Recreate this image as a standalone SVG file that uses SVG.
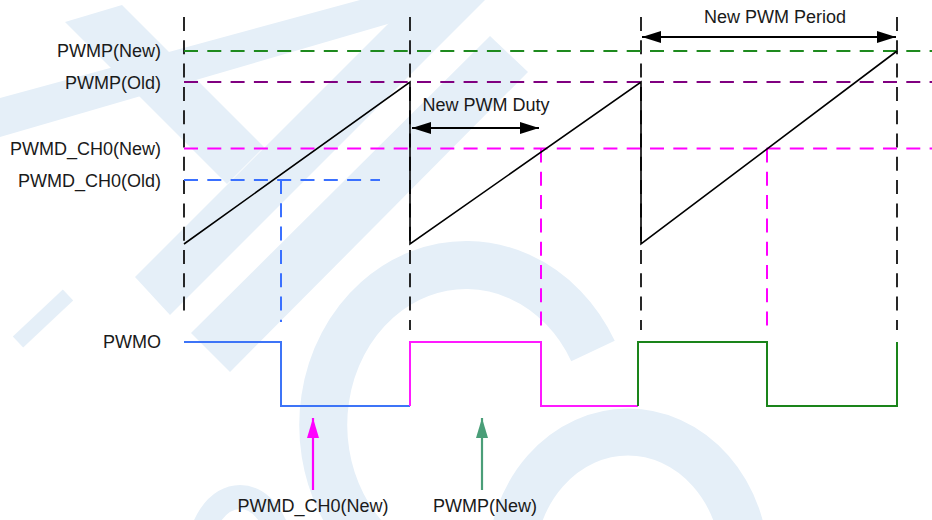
<svg xmlns="http://www.w3.org/2000/svg" width="932" height="520" viewBox="0 0 932 520">
<style>
.wm{fill:#e5eff8;stroke:none}
.wms{fill:none;stroke:#e5eff8}
.lbl{font-family:"Liberation Sans",Arial,sans-serif;font-size:18px;fill:#1a1a1a}
.end{text-anchor:end}
.mid{text-anchor:middle}
.grid{fill:none;stroke:#111;stroke-width:1.8;stroke-dasharray:14 9.3}
.lvl{fill:none;stroke-width:2;stroke-dasharray:14 9.3}
.saw{fill:none;stroke:#000;stroke-width:1.6;stroke-linejoin:miter}
.wave{fill:none;stroke-width:2}
.dim{stroke:#000;stroke-width:2}
</style>
<defs>
<marker id="ah" viewBox="0 0 19 12" refX="19" refY="6" markerWidth="19" markerHeight="12" markerUnits="userSpaceOnUse" orient="auto-start-reverse"><path d="M0,0 L19,6 L0,12 Z" fill="#000"/></marker>
<marker id="ahm" viewBox="0 0 12 20" refX="6" refY="0" markerWidth="12" markerHeight="20" markerUnits="userSpaceOnUse" orient="0"><path d="M6,0 L12,20 L0,20 Z" fill="#ff00ff"/></marker>
<marker id="ahg" viewBox="0 0 12 20" refX="6" refY="0" markerWidth="12" markerHeight="20" markerUnits="userSpaceOnUse" orient="0"><path d="M6,0 L12,20 L0,20 Z" fill="#4a9e78"/></marker>
</defs>
<rect x="0" y="0" width="932" height="520" fill="#ffffff"/>
<g id="watermark">
<polygon class="wm" points="0,98 360,0 470,0 0,137"/>
<polygon class="wm" points="65,22 122,5 264,147 227,184"/>
<polygon class="wm" points="135,277 170,315 485,0 412,0"/>
<polygon class="wm" points="191,333 230,372 528,72 490,36"/>
<line class="wms" x1="18" y1="342" x2="68" y2="295" stroke-width="15"/>
<path class="wms" d="M593,351 A143,160 0 1 0 470,585" stroke-width="48"/>
<ellipse class="wms" cx="628" cy="565" rx="117" ry="133" stroke-width="47"/>
<ellipse class="wms" cx="240" cy="560" rx="42" ry="63" stroke-width="24"/>
</g>
<g id="labels">
<text class="lbl end" x="161" y="57">PWMP(New)</text>
<text class="lbl end" x="161" y="88.5">PWMP(Old)</text>
<text class="lbl end" x="161" y="155">PWMD_CH0(New)</text>
<text class="lbl end" x="161" y="186.5">PWMD_CH0(Old)</text>
<text class="lbl end" x="161" y="348">PWMO</text>
</g>
<g id="connectors">
<line class="grid" x1="184" y1="17" x2="184" y2="312"/>
<line class="grid" x1="410" y1="17" x2="410" y2="330"/>
<line class="grid" x1="641" y1="17" x2="641" y2="330"/>
<line class="grid" x1="897" y1="17" x2="897" y2="330"/>
<line class="lvl" x1="184" y1="51" x2="932" y2="51" stroke="#1e8a1e"/>
<line class="lvl" x1="184" y1="82" x2="932" y2="82" stroke="#800080"/>
<line class="lvl" x1="184" y1="148.5" x2="932" y2="148.5" stroke="#ff00ff"/>
<line class="lvl" x1="184" y1="180" x2="380" y2="180" stroke="#3a70ff"/>
<line class="lvl" x1="281" y1="180" x2="281" y2="322" stroke="#3a70ff"/>
<line class="lvl" x1="541" y1="148.5" x2="541" y2="330" stroke="#ff00ff"/>
<line class="lvl" x1="767" y1="148.5" x2="767" y2="330" stroke="#ff00ff"/>
<path class="saw" d="M184,244 L410,82 L410,244 L641,82 L641,244 L897,51"/>
<path class="wave" stroke="#3d74f7" d="M184,342 H281 V406 H410"/>
<path class="wave" stroke="#ff1aff" d="M410,406 V342 H541 V406 H638"/>
<path class="wave" stroke="#1a841a" d="M638,406 V342 H767 V406 H897 V342"/>
<line class="dim" x1="412" y1="128" x2="539" y2="128" marker-start="url(#ah)" marker-end="url(#ah)"/>
<line class="dim" x1="642" y1="37" x2="896" y2="37" marker-start="url(#ah)" marker-end="url(#ah)"/>
<line x1="313" y1="490" x2="313" y2="418" stroke="#ff00ff" stroke-width="2.2" marker-end="url(#ahm)"/>
<line x1="482" y1="490" x2="482" y2="418" stroke="#4a9e78" stroke-width="2.2" marker-end="url(#ahg)"/>
</g>
<g id="annotations">
<text class="lbl mid" x="486" y="111">New PWM Duty</text>
<text class="lbl mid" x="775" y="23">New PWM Period</text>
<text class="lbl mid" x="313" y="512">PWMD_CH0(New)</text>
<text class="lbl mid" x="485" y="512">PWMP(New)</text>
</g>
</svg>
